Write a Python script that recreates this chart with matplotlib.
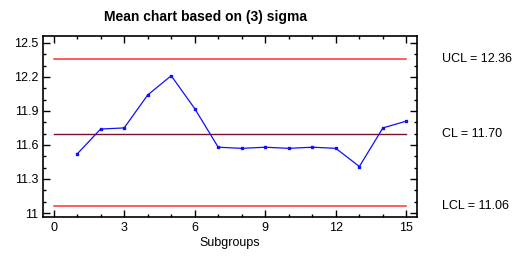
import matplotlib.pyplot as plt
from matplotlib.ticker import MultipleLocator

plt.rcParams['font.family'] = ['Liberation Sans', 'DejaVu Sans']

# Datos: medias por subgrupo
subgroups = list(range(1, 16))
means = [11.52, 11.74, 11.75, 12.04, 12.21, 11.92, 11.58, 11.57,
         11.58, 11.57, 11.58, 11.57, 11.41, 11.75, 11.81]
ucl = 12.36
cl = 11.70
lcl = 11.06
limit_x = [0, 15]

fig = plt.figure(figsize=(5.17, 2.57), dpi=100)
ax = fig.add_axes([43 / 517, 1 - 217 / 257, 374 / 517, 181 / 257])

ax.plot(limit_x, [ucl, ucl], color='#ff3030', lw=1.1)
ax.plot(limit_x, [lcl, lcl], color='#ff3030', lw=1.1)
ax.plot(limit_x, [cl, cl], color='#7a1030', lw=1.0)
ax.plot(subgroups, means, color='#1010ff', lw=0.9, marker='s', ms=2)

ax.set_xlim(-0.45, 15.45)
ax.set_ylim(10.965, 12.56)
ax.xaxis.set_major_locator(MultipleLocator(3))
ax.xaxis.set_minor_locator(MultipleLocator(1))
ax.yaxis.set_minor_locator(MultipleLocator(0.1))
ax.set_yticks([11, 11.3, 11.6, 11.9, 12.2, 12.5])
ax.set_yticklabels(['11', '11.3', '11.6', '11.9', '12.2', '12.5'])
ax.tick_params(which='both', direction='in', top=True, right=True, labelsize=9, width=1)
ax.tick_params(which='major', length=5)
ax.tick_params(which='minor', length=2.5)
for s in ax.spines.values():
    s.set_linewidth(1.2)

ax.set_xlabel('Subgroups', fontsize=9, labelpad=2)
fig.text(206 / 517, 1 - 17 / 257, 'Mean chart based on (3) sigma',
         ha='center', va='center', fontsize=10, fontweight='bold')

for val, txt in [(ucl, 'UCL = %.2f' % ucl), (cl, 'CL = %.2f' % cl), (lcl, 'LCL = %.2f' % lcl)]:
    ax.annotate(txt, xy=(1, val), xycoords=('axes fraction', 'data'),
                xytext=(18, 0), textcoords='offset points', va='center', fontsize=9)

fig.savefig('out.png', dpi=100)
